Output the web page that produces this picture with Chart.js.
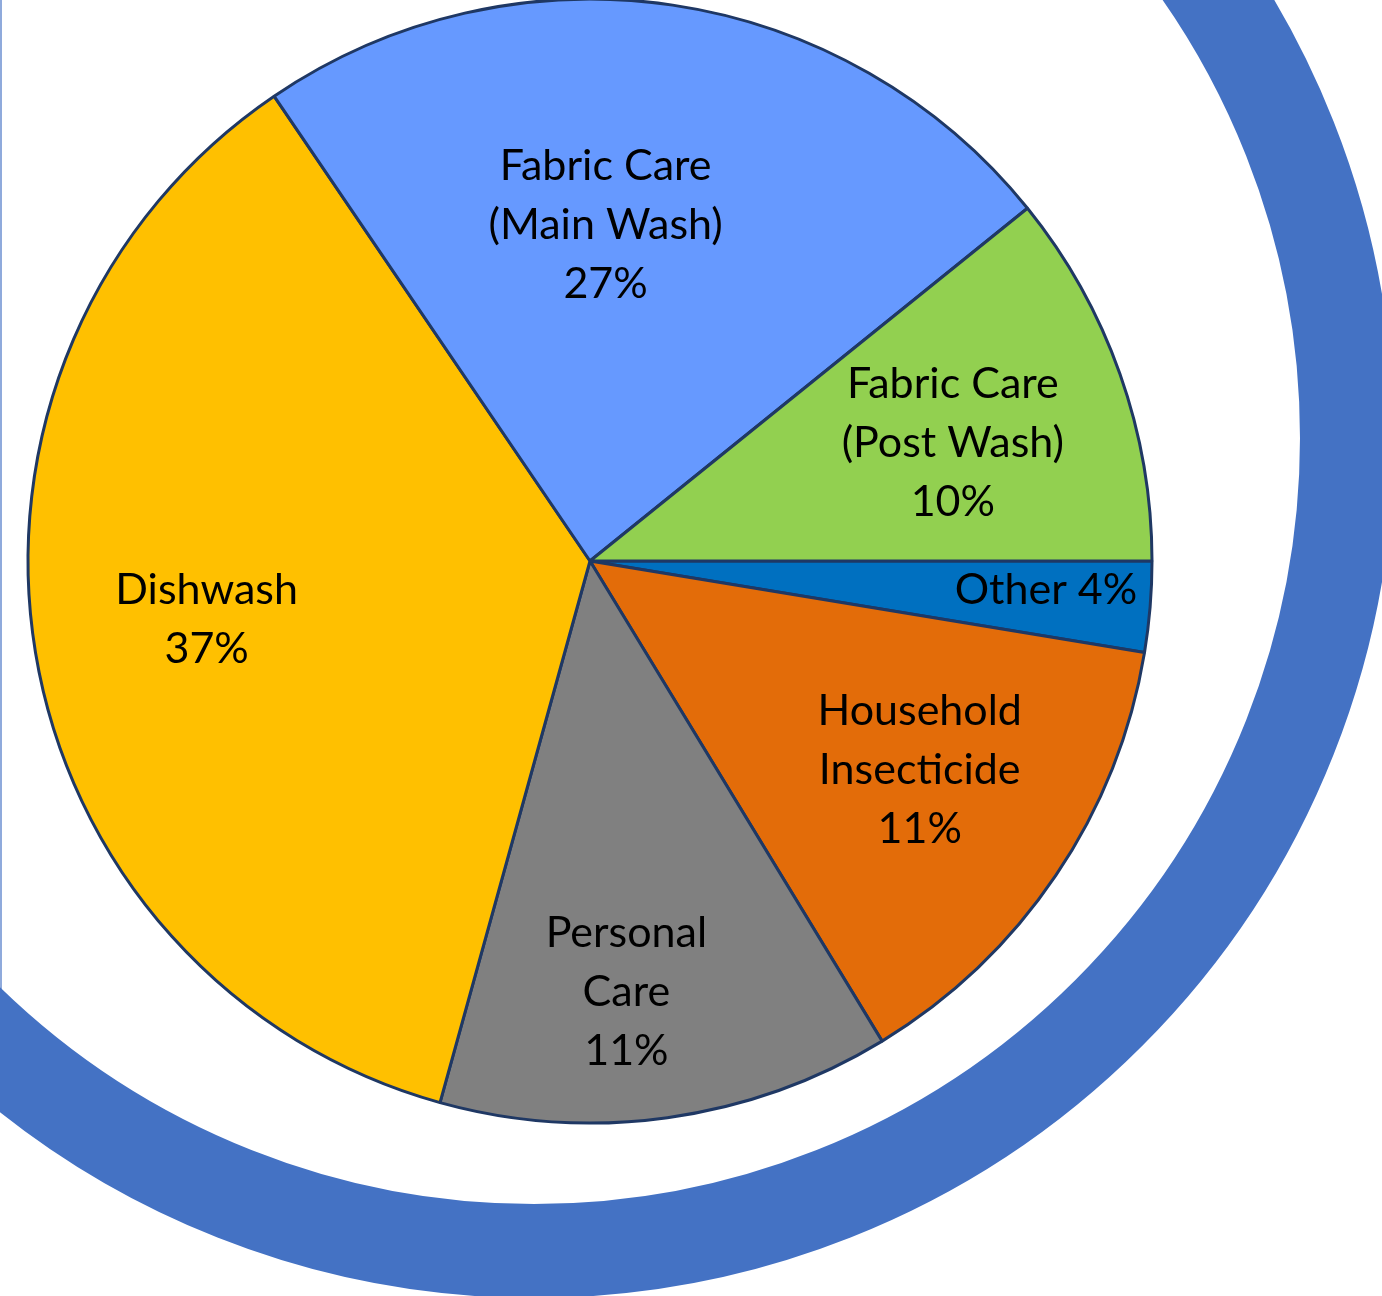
<!DOCTYPE html>
<html>
<head>
<meta charset="utf-8">
<script src="https://cdn.jsdelivr.net/npm/chart.js@4/dist/chart.umd.min.js"></script>
<style>
    body{ margin:0; background:#fff; }
    #wrap{ width:1382px; height:1296px; position:relative; }
</style>
</head>
<body>
<div id="wrap"><canvas id="myChart" width="1382" height="1296"></canvas></div>
<script>
// slices go clockwise starting at 3 o'clock
const categorias = ["Other", "Household Insecticide", "Personal Care", "Dishwash", "Fabric Care (Main Wash)", "Fabric Care (Post Wash)"];
const valores = [2.6, 13.7, 13.0, 36.2, 23.7, 10.8];
const porcentajes = ["4%", "11%", "11%", "37%", "27%", "10%"];
const lineas = [["Other"], ["Household", "Insecticide"], ["Personal", "Care"], ["Dishwash"], ["Fabric Care", "(Main Wash)"], ["Fabric Care", "(Post Wash)"]];
const colores = ['#0070C0', '#E36C09', '#808080', '#FFC000', '#6699FF', '#92D050'];

// where each label sits: fraction of radius and angle shift (deg) from slice middle
const posLabel = [
    {f: 0.813, da: -1.0},
    {f: 0.695, da: -1.6},
    {f: 0.770, da: 3.1},
    {f: 0.690, da: 0.7},
    {f: 0.598, da: -5.8},
    {f: 0.679, da: 1.4}
];

const fondo = {
    id: 'fondo',
    beforeDraw: (chart) => {
        const ctx = chart.ctx;
        ctx.save();
        ctx.fillStyle = '#8FAADC';
        ctx.fillRect(0, 0, 2, 990);
        ctx.beginPath();
        ctx.arc(534, 438, 813, 0, Math.PI * 2);
        ctx.lineWidth = 94;
        ctx.strokeStyle = '#4472C4';
        ctx.stroke();
        ctx.restore();
    }
};

const etiquetas = {
    id: 'etiquetas',
    afterDatasetsDraw: (chart) => {
        const ctx = chart.ctx;
        const meta = chart.getDatasetMeta(0);
        ctx.save();
        ctx.fillStyle = '#000';
        ctx.font = '43px Lato';
        ctx.textAlign = 'center';
        ctx.textBaseline = 'middle';
        meta.data.forEach((arc, i) => {
            const p = arc.getProps(['x', 'y', 'startAngle', 'endAngle', 'outerRadius'], true);
            const ang = (p.startAngle + p.endAngle) / 2 + posLabel[i].da * Math.PI / 180;
            const r = p.outerRadius * posLabel[i].f;
            const cx = p.x + Math.cos(ang) * r;
            const cy = p.y + Math.sin(ang) * r;
            let texto = lineas[i].slice();
            if (i === 0) {
                texto[0] = texto[0] + ' ' + porcentajes[i];
            } else {
                texto.push(porcentajes[i]);
            }
            const alto = 59;
            const y0 = cy - (texto.length - 1) * alto / 2;
            texto.forEach((t, j) => {
                ctx.fillText(t, cx, y0 + j * alto);
            });
        });
        ctx.restore();
    }
};

const ctx = document.getElementById('myChart');
new Chart(ctx, {
    type: 'pie',
    data: {
        labels: categorias,
        datasets: [{
            data: valores,
            backgroundColor: colores,
            borderColor: '#1F3864',
            borderWidth: 3
        }]
    },
    options: {
        responsive: false,
        animation: false,
        rotation: 90,
        radius: 562,
        layout: { padding: { left: 0, right: 202, top: 0, bottom: 174 } },
        plugins: {
            legend: { display: false },
            tooltip: { enabled: false }
        }
    },
    plugins: [fondo, etiquetas]
});
</script>
</body>
</html>
